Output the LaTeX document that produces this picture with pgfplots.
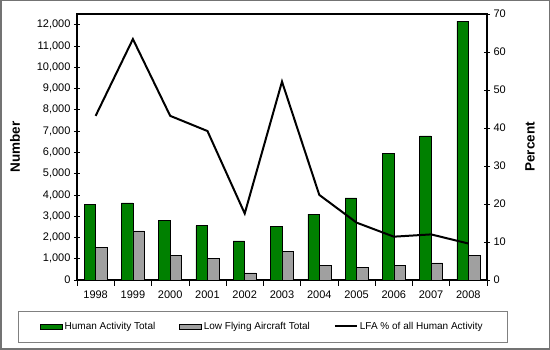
\documentclass[border=0pt]{standalone}
\usepackage{pgfplots}
\pgfplotsset{compat=1.18}
\usepackage{fontspec}
\setmainfont{Liberation Sans}
\definecolor{hagreen}{RGB}{0,128,0}
\definecolor{lfagray}{RGB}{160,160,160}
\pgfplotstableread{
x human lfa pct
0 3550 1550 43.2
1 3620 2310 63.4
2 2810 1140 43.2
3 2560 1020 39.2
4 1840 330 17.5
5 2530 1330 52.2
6 3090 690 22.4
7 3860 590 15.1
8 5940 690 11.4
9 6770 810 12.0
10 12160 1170 9.6
}\datatable
\begin{document}
\begin{tikzpicture}[x=1pt,y=1pt]
\draw[gray!90!black, line width=1.5pt] (0.75,0.75) rectangle (549.25,349.25);
\pgfplotsset{every axis/.append style={
  scale only axis, width=410pt, height=266pt,
  at={(77pt,70pt)}, anchor=south west,
  xmin=-0.5, xmax=10.5,
  axis line style={line width=1.3pt},
  tick style={black, line width=0.6pt},
  tick align=center,
  major tick length=6pt,
  minor tick length=6pt,
  tick label style={font=\fontsize{11}{13}\selectfont},
  /pgf/number format/assume math mode=true,
}}
\begin{axis}[
  ymin=0, ymax=12500,
  ytick={0,1000,...,12000},
  yticklabel style={/pgf/number format/.cd, 1000 sep={,}, fixed},
  scaled y ticks=false,
  ytick pos=left,
  xtick pos=bottom,
  xtick={0,...,10},
  xticklabels={1998,1999,2000,2001,2002,2003,2004,2005,2006,2007,2008},
  major x tick style={draw=none},
  minor xtick={-0.5,0.5,...,10.5},
  ybar=0pt, bar width=11.5pt,
  ylabel={\bfseries Number},
  ylabel style={font=\fontsize{13.5}{15}\selectfont, at={(axis description cs:-0.151,0.5)}, anchor=center},
  xticklabel style={yshift=-1pt},
]
\addplot[fill=hagreen, draw=black, line width=0.5pt] table[x=x,y=human]{\datatable};
\addplot[fill=lfagray, draw=black, line width=0.5pt] table[x=x,y=lfa]{\datatable};
\end{axis}
\begin{axis}[
  ymin=0, ymax=70,
  ytick={0,10,...,70},
  axis y line*=right,
  axis x line=none,
  ylabel={\bfseries Percent},
  ylabel style={font=\fontsize{13.5}{15}\selectfont, at={(axis description cs:1.105,0.5)}, anchor=center},
  legend columns=3,
  legend style={draw=none, fill=none, font=\fontsize{10}{12}\selectfont,
    at={(axis description cs:0.4524,-0.1748)}, anchor=center,
    /tikz/every even column/.append style={column sep=22pt},
    inner sep=0pt},
  legend cell align=left,
]
\addlegendimage{legend image code/.code={\draw[fill=hagreen, draw=black, line width=0.5pt] (0pt,-2.5pt) rectangle (22pt,2.5pt);}}
\addlegendentry{Human Activity Total}
\addlegendimage{legend image code/.code={\draw[fill=lfagray, draw=black, line width=0.5pt] (0pt,-2.5pt) rectangle (22pt,2.5pt);}}
\addlegendentry{Low Flying Aircraft Total}
\addplot[black, line width=2pt, mark=none, legend image code/.code={\draw[black, line width=2pt] (0pt,0pt) -- (22pt,0pt);}] table[x=x,y=pct]{\datatable};
\addlegendentry{LFA \% of all Human Activity}
\end{axis}
\draw[gray, line width=0.6pt] (18,8) rectangle (507,39);
\end{tikzpicture}
\end{document}
